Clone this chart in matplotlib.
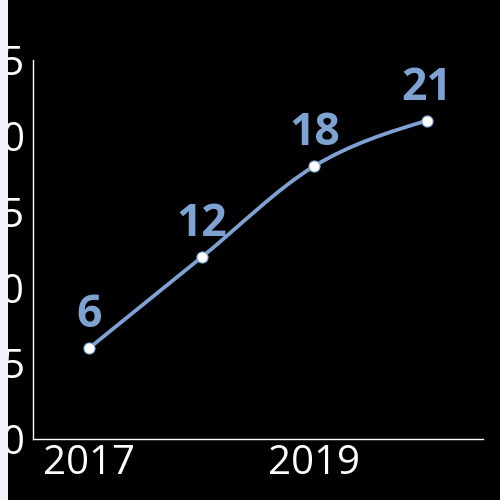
import numpy as np
import matplotlib.pyplot as plt
from matplotlib.path import Path
from matplotlib.patches import PathPatch, Rectangle

years = [2017, 2018, 2019, 2020]
values = [6, 12, 18, 21]
x_ticks = [2017, 2019]
y_ticks = [0, 5, 10, 15, 20, 25]

line_color = "#7ea3d2"

plt.rcParams['font.family'] = ['Open Sans', 'DejaVu Sans']

fig = plt.figure(figsize=(5, 5), dpi=100, facecolor="black")
ax = fig.add_axes([0.066, 0.122, 0.9, 0.758])
ax.set_facecolor("black")


def monotone_slopes(x, y):
    # d3 curveMonotoneX style tangents
    x = np.asarray(x, float)
    y = np.asarray(y, float)
    n = len(x)
    h = np.diff(x)
    s = np.diff(y) / h
    t = np.zeros(n)
    for i in range(1, n - 1):
        p = (s[i - 1] * h[i] + s[i] * h[i - 1]) / (h[i - 1] + h[i])
        t[i] = (np.sign(s[i - 1]) + np.sign(s[i])) * min(abs(s[i - 1]), abs(s[i]), 0.5 * abs(p))
    t[0] = (3 * s[0] - t[1]) / 2
    t[-1] = (3 * s[-1] - t[-2]) / 2
    return t


t = monotone_slopes(years, values)
verts = [(years[0], values[0])]
codes = [Path.MOVETO]
for i in range(len(years) - 1):
    dx = (years[i + 1] - years[i]) / 3
    verts += [(years[i] + dx, values[i] + dx * t[i]),
              (years[i + 1] - dx, values[i + 1] - dx * t[i + 1]),
              (years[i + 1], values[i + 1])]
    codes += [Path.CURVE4] * 3
ax.add_patch(PathPatch(Path(verts, codes), facecolor="none", edgecolor=line_color,
                       lw=2.7, capstyle="round", zorder=2))

ax.plot(years, values, "o", ms=8, mfc="white", mec=line_color, mew=0.8, zorder=3)

for x, v in zip(years, values):
    ax.annotate(str(v), (x, v), xytext=(0, 15), textcoords="offset points",
                ha="center", va="baseline", fontsize=32, fontweight="bold",
                color=line_color)

ax.set_xlim(2016.5, 2020.5)
ax.set_ylim(0, 25)
ax.set_xticks(x_ticks)
ax.set_yticks(y_ticks)
ax.tick_params(colors="white", labelsize=29, length=0)
ax.tick_params(axis="y", pad=6)
ax.tick_params(axis="x", pad=3)

for side in ["top", "right"]:
    ax.spines[side].set_visible(False)
for side in ["left", "bottom"]:
    ax.spines[side].set_color("white")
    ax.spines[side].set_linewidth(1)

# light strip at the left edge covering part of the tick labels
fig.patches.append(Rectangle((0, 0), 8 / 500, 1, transform=fig.transFigure,
                             facecolor="#f1f2f8", edgecolor="none", zorder=10))

fig.savefig("out.png", dpi=100, facecolor="black")
